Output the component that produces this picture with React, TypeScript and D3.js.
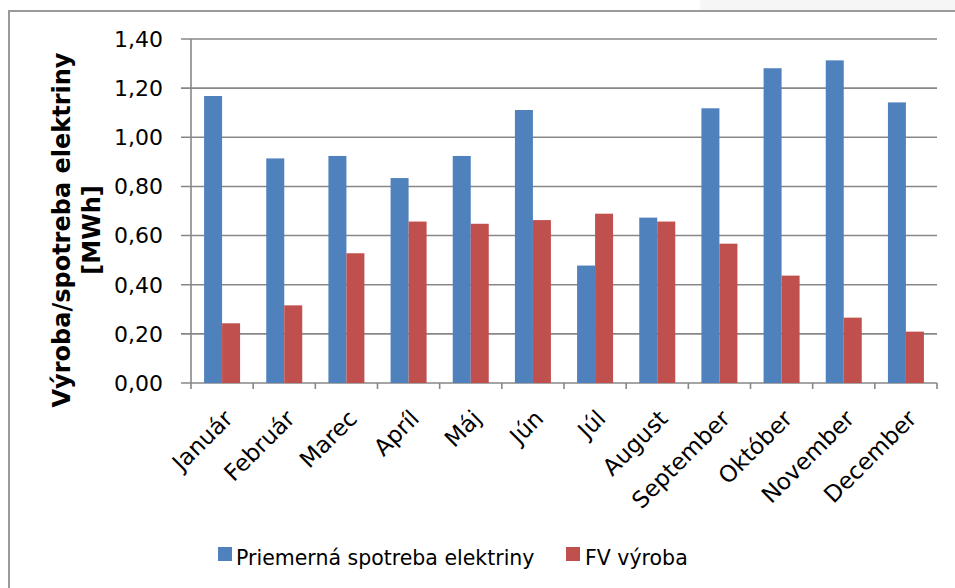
import React from "react";
import * as d3 from "d3";

const months = ["Január", "Február", "Marec", "Apríl", "Máj", "Jún", "Júl", "August", "September", "Október", "November", "December"];
const spotreba = [1.168, 0.914, 0.924, 0.834, 0.924, 1.111, 0.478, 0.673, 1.118, 1.281, 1.313, 1.142];
const fvVyroba = [0.243, 0.316, 0.528, 0.657, 0.648, 0.663, 0.689, 0.657, 0.567, 0.437, 0.266, 0.209];
const seriesNames = ["Priemerná spotreba elektriny", "FV výroba"];
const seriesColors = ["#4f81bd", "#c0504d"];
const yTicks = [0, 0.2, 0.4, 0.6, 0.8, 1.0, 1.2, 1.4];

const W = 955, H = 588;
const m = { l: 191, r: 937, t: 39, b: 383 };
const font = "'DejaVu Sans', Verdana, sans-serif";
const gridColor = "#878787";

export default function App() {
  const x = d3.scaleBand<string>().domain(months).range([m.l, m.r]).paddingInner(0).paddingOuter(0);
  const x1 = d3.scaleBand<number>().domain([0, 1]).range([0, x.bandwidth()]).paddingInner(0).paddingOuter(0.727);
  const y = d3.scaleLinear().domain([0, 1.4]).range([m.b, m.t]);
  const fmt = (v: number) => d3.format(".2f")(v).replace(".", ",");
  const series = [spotreba, fvVyroba];

  return (
    <svg width={W} height={H} style={{ position: "absolute", left: 0, top: 0 }} fontFamily={font}>
      <rect x={0} y={0} width={W} height={H} fill="#fff" />
      <rect x={700} y={0} width={255} height={10} fill="#f6f6f6" />
      <rect x={9} y={11} width={W + 20} height={H + 20} fill="none" stroke="#9a9a9a" strokeWidth={2} />

      {/* gridlines + y ticks */}
      {yTicks.map(t => (
        <g key={t}>
          <line x1={m.l - 10} x2={m.r} y1={y(t)} y2={y(t)} stroke={gridColor} strokeWidth={1.6} />
          <text x={163} y={y(t)} dy="0.36em" textAnchor="end" fontSize={22} fill="#000">{fmt(t)}</text>
        </g>
      ))}
      <line x1={m.l} x2={m.l} y1={m.t} y2={m.b + 6} stroke={gridColor} strokeWidth={1.6} />

      {/* bars */}
      {months.map((mo, i) => (
        <g key={mo}>
          {series.map((s, k) => (
            <rect key={k} x={(x(mo) as number) + (x1(k) as number)} y={y(s[i])} width={x1.bandwidth()} height={y(0) - y(s[i])}
              fill={seriesColors[k]} />
          ))}
        </g>
      ))}

      {/* x ticks */}
      {months.map((mo, i) => (
        <line key={"t" + i} x1={(x(mo) as number) + x.bandwidth()} x2={(x(mo) as number) + x.bandwidth()} y1={m.b} y2={m.b + 6}
          stroke={gridColor} strokeWidth={1.6} />
      ))}
      {months.map(mo => {
        const cx = (x(mo) as number) + x.bandwidth() / 2;
        return (
          <text key={"l" + mo} transform={`translate(${cx + 12},${420}) rotate(-45)`} textAnchor="end" fontSize={23} fill="#000">{mo}</text>
        );
      })}

      {/* y title */}
      <g transform="translate(70,230) rotate(-90)">
        <text x={0} y={0} textAnchor="middle" fontSize={24} fontWeight="bold" fill="#000">Výroba/spotreba elektriny</text>
        <text x={0} y={30} textAnchor="middle" fontSize={24} fontWeight="bold" fill="#000">[MWh]</text>
      </g>

      {/* legend */}
      <rect x={218} y={547} width={14} height={14} fill={seriesColors[0]} />
      <text x={236} y={565} fontSize={20.5} fill="#000">{seriesNames[0]}</text>
      <rect x={566} y={547} width={14} height={14} fill={seriesColors[1]} />
      <text x={585} y={565} fontSize={20.5} fill="#000">{seriesNames[1]}</text>
    </svg>
  );
}
